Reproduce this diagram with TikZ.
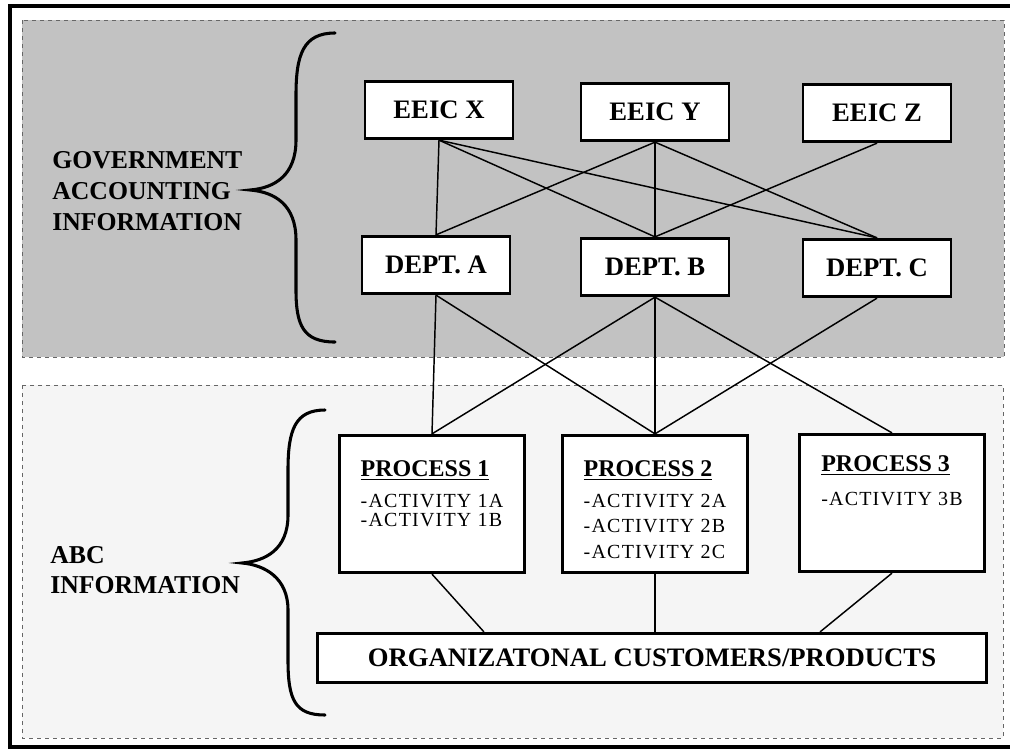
\documentclass[tikz,border=0pt]{standalone}
\usepackage{fontspec}
\setmainfont{Liberation Serif}
\newfontfamily\actfont[LetterSpace=6]{Liberation Serif}
\usetikzlibrary{positioning,calc}

\tikzset{
	hdbox/.style={draw,line width=2.2pt,fill=white,inner sep=0pt,minimum width=111pt,minimum height=43pt,font=\bfseries\fontsize{20}{22}\selectfont},
	procbox/.style={draw,line width=2.2pt,fill=white,inner sep=0pt,minimum width=139pt,minimum height=103pt},
	proctext/.style={align=left,inner sep=0pt,font=\actfont\fontsize{15}{19}\selectfont},
	link/.style={line width=1.1pt},
	curly/.style={line width=2.3pt,line cap=round},
	sidelbl/.style={align=left,inner sep=0pt,font=\bfseries\fontsize{19.3}{23}\selectfont},
	zone/.style={dashed,black!60,line width=0.6pt}
}
\newcommand{\prochead}[1]{{\rmfamily\bfseries\fontsize{18}{19}\selectfont\underline{#1}}}

\begin{document}
\begin{tikzpicture}[x=0.75pt,y=-0.75pt]
	\useasboundingbox (0,0) rectangle (1010,751);
	\draw[line width=3pt] (10,6) rectangle (1013,747);
	\draw[zone,fill=black!24] (22,20) rectangle (1004,357);
	\draw[zone,fill=black!4] (22,385) rectangle (1003,738);

	\node[hdbox] (eeicx) at (439,110) {EEIC X};
	\node[hdbox] (eeicy) at (655,112) {EEIC Y};
	\node[hdbox] (eeicz) at (877,113) {EEIC Z};
	\node[hdbox] (depta) at (436,265) {DEPT. A};
	\node[hdbox] (deptb) at (655,267) {DEPT. B};
	\node[hdbox] (deptc) at (877,268) {DEPT. C};

	\node[procbox] (proc1) at (432,504) {};
	\node[procbox] (proc2) at (655,504) {};
	\node[procbox] (proc3) at (892,503) {};
	\node[proctext,below=20pt of proc1.north] (proc1txt) {\prochead{PROCESS 1}\\[4pt] -ACTIVITY 1A\\[-5pt] -ACTIVITY 1B};
	\node[proctext,below=20pt of proc2.north] (proc2txt) {\prochead{PROCESS 2}\\[4pt] -ACTIVITY 2A\\ -ACTIVITY 2B\\ -ACTIVITY 2C};
	\node[proctext,below=17pt of proc3.north] (proc3txt) {\prochead{PROCESS 3}\\[6pt] -ACTIVITY 3B};

	\node[hdbox,minimum width=502pt,minimum height=37pt] (org) at (652,658) {ORGANIZATONAL CUSTOMERS/PRODUCTS};

	\draw[link] (eeicx.south)--(depta.north);
	\draw[link] (eeicx.south)--(deptb.north);
	\draw[link] (eeicx.south)--(deptc.north);
	\draw[link] (eeicy.south)--(depta.north);
	\draw[link] (eeicy.south)--(deptb.north);
	\draw[link] (eeicy.south)--(deptc.north);
	\draw[link] (eeicz.south)--(deptb.north);
	\draw[link] (depta.south)--(proc1.north);
	\draw[link] (depta.south)--(proc2.north);
	\draw[link] (deptb.south)--(proc1.north);
	\draw[link] (deptb.south)--(proc2.north);
	\draw[link] (deptb.south)--(proc3.north);
	\draw[link] (deptc.south)--(proc2.north);
	\draw[link] (proc1.south)--($(org.north west)!.25!(org.north east)$);
	\draw[link] (proc2.south)--(proc2.south|-org.north);
	\draw[link] (proc3.south)--($(org.north west)!.75!(org.north east)$);

	\node[sidelbl,anchor=west] (govlbl) at (52,191) {GOVERNMENT\\ACCOUNTING\\INFORMATION};
	\node[sidelbl,anchor=west] (abclbl) at (50,570) {ABC\\INFORMATION};
	\draw[curly] (335,33) .. controls (303,33) and (296,55) .. (296,95) -- (296,140) .. controls (296,175) and (275,188) .. (250,190) .. controls (275,192) and (296,205) .. (296,240) -- (296,290) .. controls (296,325) and (303,342) .. (335,342);
	\draw[curly] (325,410) .. controls (295,410) and (288,430) .. (288,470) -- (288,515) .. controls (288,550) and (265,561) .. (242,563) .. controls (265,565) and (288,578) .. (288,610) -- (288,660) .. controls (288,700) and (295,715) .. (325,715);
\end{tikzpicture}
\end{document}
